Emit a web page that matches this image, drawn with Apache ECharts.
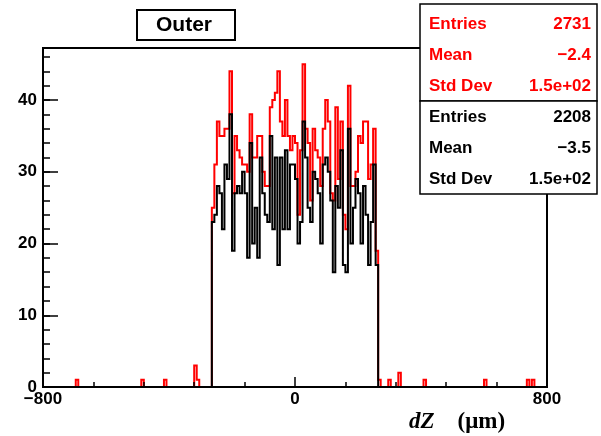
<!DOCTYPE html>
<html><head><meta charset="utf-8">
<script src="https://cdn.jsdelivr.net/npm/echarts@6/dist/echarts.min.js"></script>
<style>html,body{margin:0;padding:0;background:#fff}#c{width:601px;height:436px}</style>
</head><body><div id="c"></div>
<script>
// Histogram binning: 200 bins of 8 µm from -800 to 800
const binLow = -800;
const binWidth = 8;
const nBins = 200;
const mainStartBin = 67; // first filled bin (-264 µm)

// Red histogram (main block of 66 bins, -264 .. 264)
const redMain = [25,31,37,35,35,36,36,44,27,35,33,32,31,31,30,38,32,32,35,35,30,28,28,39,40,41,44,37,35,40,35,33,
                 35,34,24,33,45,36,34,26,36,33,32,28,36,40,37,27,26,39,29,37,24,22,42,28,28,30,35,34,37,37,29,31,36,19];
// Black histogram (same bins)
const blackMain = [23,24,28,27,22,31,29,38,19,27,28,27,30,27,18,34,20,25,18,32,27,24,23,35,22,32,17,32,22,33,22,31,
                   31,29,20,23,37,32,25,23,30,29,27,20,31,32,30,26,16,28,25,33,17,16,36,20,25,29,27,20,28,24,17,23,31,17];
// isolated red entries [bin, count]
const redOutliers = [[13,1],[39,1],[48,1],[60,3],[61,1],[133,1],[137,1],[141,2],[151,1],[175,1],[192,1],[194,1]];
const blackOutliers = [];

const yMax = 47.25;
const yMajorStep = 10;
const yMinorStep = 2;

const statsRed = [["Entries","2731"],["Mean","\u22122.4"],["Std Dev","1.5e+02"]];
const statsBlack = [["Entries","2208"],["Mean","\u22123.5"],["Std Dev","1.5e+02"]];

function counts(main, outliers){
  const c = new Array(nBins).fill(0);
  main.forEach((v,i)=>{ c[mainStartBin+i] = v; });
  outliers.forEach(([b,v])=>{ c[b] = v; });
  return c;
}
function steps(c){
  const pts = [[binLow,0]];
  c.forEach((v,i)=>{ const lo = binLow + i*binWidth; pts.push([lo,v],[lo+binWidth,v]); });
  pts.push([binLow + nBins*binWidth, 0]);
  return pts;
}
const redData = steps(counts(redMain, redOutliers));
const blackData = steps(counts(blackMain, blackOutliers));

const chart = echarts.init(document.getElementById('c'), null, {renderer:'canvas'});
const font = 'Liberation Sans, Arial, Helvetica, sans-serif';
const serif = 'Liberation Serif, Times New Roman, serif';

function statsGraphics(rows, color, y0){
  const g = [];
  rows.forEach((r,i)=>{
    const cy = y0 + i*31;
    g.push({type:'text', z:101, style:{text:r[0], x:429, y:cy, textVerticalAlign:'middle', textAlign:'left', fill:color, font:'bold 17px '+font}});
    g.push({type:'text', z:101, style:{text:r[1], x:591, y:cy, textVerticalAlign:'middle', textAlign:'right', fill:color, font:'bold 17px '+font}});
  });
  return g;
}

chart.setOption({
  animation:false,
  backgroundColor:'#fff',
  grid:{left:43, right:54, top:48, bottom:49, show:true, borderColor:'#000', borderWidth:2, backgroundColor:'transparent'},
  xAxis:{
    type:'value', min:-800, max:800, interval:800, z:10,
    axisLine:{onZero:false, lineStyle:{color:'#000', width:2}},
    axisTick:{inside:true, length:10, lineStyle:{color:'#000', width:1.5}},
    minorTick:{show:true, splitNumber:5, length:5, lineStyle:{color:'#000', width:1.5}},
    splitLine:{show:false},
    axisLabel:{margin:4, color:'#000', fontWeight:'bold', fontSize:17, fontFamily:font,
      formatter:v=>String(v).replace('-', '\u2212')}
  },
  yAxis:[{
    type:'value', min:0, max:yMax, interval:yMajorStep, z:11, position:'left',
    axisLine:{show:true, onZero:false, lineStyle:{color:'#000', width:2}},
    axisTick:{show:true, inside:true, length:15, lineStyle:{color:'#000', width:1.5}},
    splitLine:{show:false},
    axisLabel:{showMaxLabel:false, margin:6, color:'#000', fontWeight:'bold', fontSize:17, fontFamily:font}
  },{
    type:'value', min:0, max:yMax, interval:yMinorStep, position:'left', z:10,
    axisLine:{show:false, onZero:false},
    axisTick:{show:true, inside:true, length:7, lineStyle:{color:'#000', width:1.5}},
    splitLine:{show:false},
    axisLabel:{show:false}
  }],
  series:[
    {type:'line', data:redData, yAxisIndex:0, symbol:'none', z:2,
     lineStyle:{color:'#ff0000', width:2, join:'miter', cap:'butt'}},
    {type:'line', data:blackData, yAxisIndex:0, symbol:'none', z:3,
     lineStyle:{color:'#000000', width:2, join:'miter', cap:'butt'}}
  ],
  graphic:[
    {type:'rect', z:100, shape:{x:137, y:10, width:98, height:30}, style:{fill:'#fff', stroke:'#000', lineWidth:2}},
    {type:'text', z:101, style:{text:'Outer', x:184, y:25, textAlign:'center', textVerticalAlign:'middle', fill:'#000', font:'bold 21px '+font}},
    {type:'rect', z:100, shape:{x:420, y:4, width:177, height:97}, style:{fill:'#fff', stroke:'#000', lineWidth:1.5}},
    {type:'rect', z:100, shape:{x:420, y:101, width:177, height:93}, style:{fill:'#fff', stroke:'#000', lineWidth:1.5}},
    ...statsGraphics(statsRed, '#ff0000', 24),
    ...statsGraphics(statsBlack, '#000000', 117),
    {type:'text', z:101, style:{
      text:'{a|dZ}{b|    (\u03bcm)}', x:409, y:422, textVerticalAlign:'middle',
      rich:{a:{fontFamily:serif, fontStyle:'italic', fontWeight:'bold', fontSize:23, fill:'#000'},
            b:{fontFamily:serif, fontWeight:'bold', fontSize:23, fill:'#000'}}
    }}
  ]
});
</script></body></html>
